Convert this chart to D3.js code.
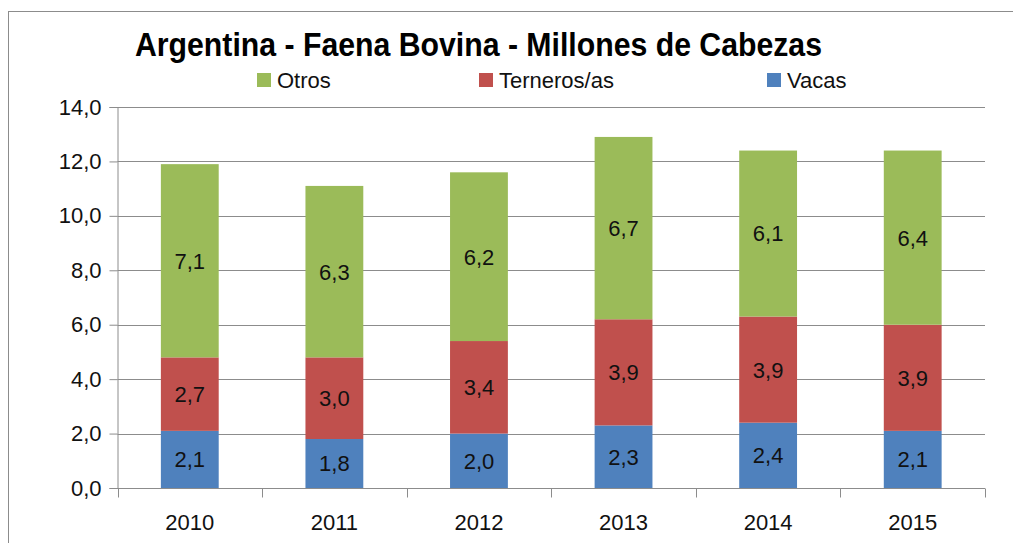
<!DOCTYPE html>
<html><head><meta charset="utf-8">
<script src="https://cdn.jsdelivr.net/npm/d3@7"></script>
<style>body{margin:0;background:#fff}svg{display:block}</style>
</head><body>
<script>
const years = ["2010","2011","2012","2013","2014","2015"];
const vacas = [2.1, 1.8, 2.0, 2.3, 2.4, 2.1];
const terneros = [2.7, 3.0, 3.4, 3.9, 3.9, 3.9];
const otros = [7.1, 6.3, 6.2, 6.7, 6.1, 6.4];
const yTicks = [0, 2, 4, 6, 8, 10, 12, 14];
const seriesNames = ["Vacas", "Terneros/as", "Otros"];
const legendOrder = ["Otros", "Terneros/as", "Vacas"];
const colors = {"Vacas": "#4F81BD", "Terneros/as": "#C0504D", "Otros": "#9BBB59"};
const title = "Argentina - Faena Bovina - Millones de Cabezas";

const W = 1013, H = 543;
const svg = d3.select("body").append("svg").attr("width", W).attr("height", H);
const font = "'Liberation Sans', Arial, sans-serif";

// outer frame
svg.append("rect").attr("x", 8.5).attr("y", 11.5).attr("width", 1100).attr("height", 600)
  .attr("fill", "none").attr("stroke", "#8c8c8c").attr("stroke-width", 1);

const x0 = 117.5, x1 = 985, y0 = 488, y1 = 107;
const x = d3.scaleBand().domain(years).range([x0, x1]).paddingInner(0.6).paddingOuter(0.3);
const y = d3.scaleLinear().domain([0, 14]).range([y0, y1]);

const rows = years.map((yr, i) => ({year: yr, "Vacas": vacas[i], "Terneros/as": terneros[i], "Otros": otros[i]}));
const stack = d3.stack().keys(seriesNames)(rows);

// gridlines
svg.append("g").selectAll("line").data(yTicks.filter(d => d > 0)).join("line")
  .attr("x1", x0).attr("x2", x1)
  .attr("y1", d => Math.round(y(d)) + 0.5).attr("y2", d => Math.round(y(d)) + 0.5)
  .attr("stroke", "#8c8c8c").attr("stroke-width", 1);

// bars
const g = svg.append("g");
stack.forEach(s => {
  g.append("g").selectAll("rect").data(s).join("rect")
    .attr("x", d => x(d.data.year))
    .attr("width", x.bandwidth())
    .attr("y", d => y(d[1]))
    .attr("height", d => y(d[0]) - y(d[1]))
    .attr("fill", colors[s.key]);
  g.append("g").selectAll("text").data(s).join("text")
    .attr("x", d => x(d.data.year) + x.bandwidth() / 2)
    .attr("y", d => (y(d[0]) + y(d[1])) / 2)
    .attr("dy", "0.36em")
    .attr("text-anchor", "middle")
    .attr("font-family", font).attr("font-size", 22).attr("fill", "#111")
    .text(d => d3.format(".1f")(d[1] - d[0]).replace(".", ","));
});

// y axis
const yAxis = d3.axisLeft(y).tickValues(yTicks).tickSize(8).tickPadding(8)
  .tickFormat(d => d3.format(".1f")(d).replace(".", ","));
const ya = svg.append("g").attr("transform", `translate(${x0},0)`).call(yAxis);
ya.select(".domain").attr("stroke", "#8c8c8c");
ya.selectAll(".tick line").attr("stroke", "#8c8c8c");
ya.selectAll("text").attr("font-family", font).attr("font-size", 22).attr("fill", "#111");

// x axis
const xa = svg.append("g").attr("transform", `translate(0,${y0 + 0.5})`);
xa.append("line").attr("x1", x0).attr("x2", x1).attr("stroke", "#8c8c8c");
const bw = (x1 - x0) / years.length;
xa.selectAll("line.t").data(d3.range(years.length + 1)).join("line").attr("class", "t")
  .attr("x1", i => Math.round(x0 + i * bw) + 0.5).attr("x2", i => Math.round(x0 + i * bw) + 0.5)
  .attr("y1", 0).attr("y2", 9).attr("stroke", "#8c8c8c");
xa.selectAll("text").data(years).join("text")
  .attr("x", d => x(d) + x.bandwidth() / 2).attr("y", 41)
  .attr("text-anchor", "middle")
  .attr("font-family", font).attr("font-size", 22).attr("fill", "#111")
  .text(d => d);

// title
svg.append("text").attr("x", 135).attr("y", 56)
  .attr("font-family", "'Liberation Sans Narrow', 'Arial Narrow', 'Liberation Sans', sans-serif")
  .attr("font-weight", "bold").attr("font-size", 33).attr("fill", "#000")
  .attr("textLength", 687).attr("lengthAdjust", "spacingAndGlyphs")
  .text(title);

// legend
const legX = {"Otros": 257, "Terneros/as": 479, "Vacas": 767};
const lg = svg.append("g");
legendOrder.forEach(k => {
  lg.append("rect").attr("x", legX[k]).attr("y", 73).attr("width", 14).attr("height", 14).attr("fill", colors[k]);
  lg.append("text").attr("x", legX[k] + 20).attr("y", 88)
    .attr("font-family", font).attr("font-size", 22).attr("fill", "#111").text(k);
});
</script>
</body></html>
